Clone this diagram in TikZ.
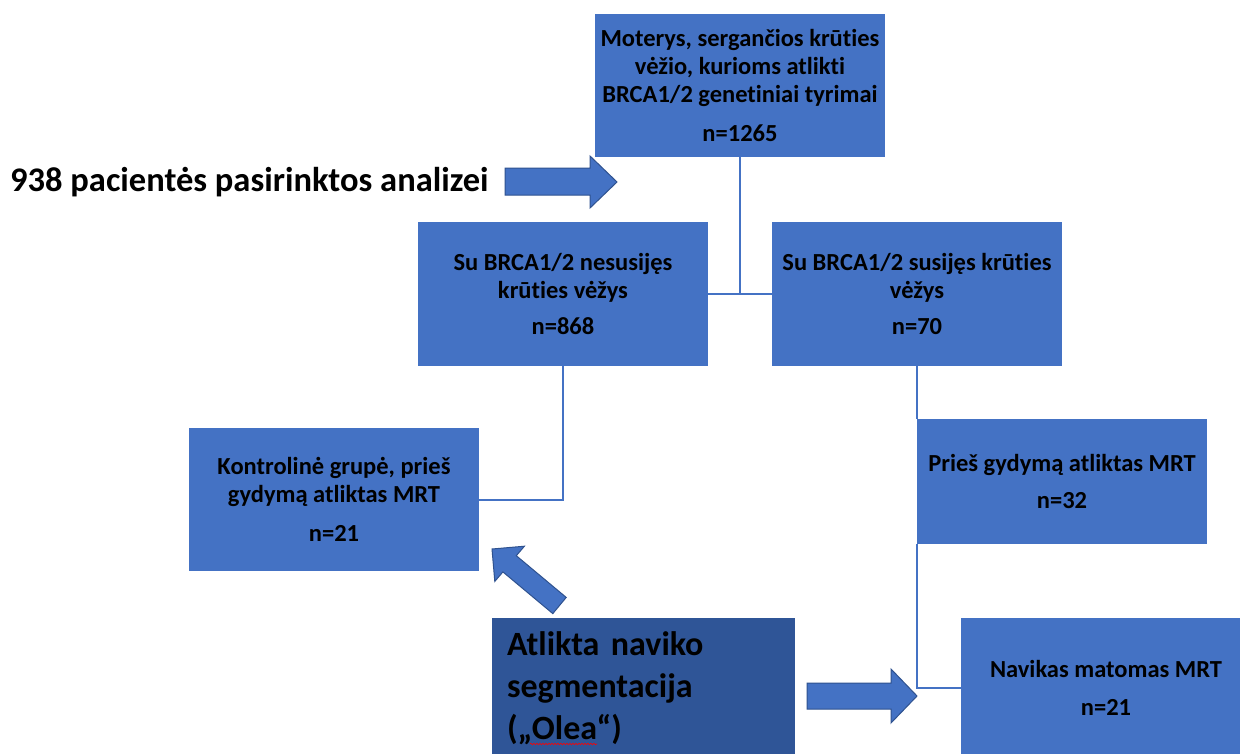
\documentclass[tikz,border=0pt]{standalone}
\usepackage{fontspec}
\setmainfont{Carlito}[Ligatures=NoCommon]
\usetikzlibrary{decorations.pathmorphing}
\definecolor{boxblue}{HTML}{4472C4}
\definecolor{darkblue}{HTML}{2F5597}
\definecolor{arrowedge}{HTML}{2F528F}
\tikzset{
  flowbox/.style={anchor=north west, fill=boxblue, draw=none, inner sep=0pt, outer sep=0pt,
    align=center, font=\fontsize{24.5}{28}\selectfont\bfseries, text=black},
  conn/.style={draw=boxblue, line width=2pt},
  blockarrow/.style={fill=boxblue, draw=arrowedge, line width=1pt, line join=miter},
}
\begin{document}
\begin{tikzpicture}[x=1pt,y=-1pt]
\clip (0,0) rectangle (1240,753);
\fill[white] (0,0) rectangle (1240,753);

\node[flowbox, minimum width=290pt, minimum height=143pt] (b1) at (595,14)
  {Moterys, sergančios krūties\\vėžio, kurioms atlikti\\BRCA1/2 genetiniai tyrimai\\[11pt]n=1265};
\node[flowbox, minimum width=290pt, minimum height=144pt] (b2) at (418,222)
  {Su BRCA1/2 nesusijęs\\krūties vėžys\\[8pt]n=868};
\node[flowbox, minimum width=290pt, minimum height=144pt] (b3) at (772,222)
  {Su BRCA1/2 susijęs krūties\\vėžys\\[8pt]n=70};
\node[flowbox, minimum width=290pt, minimum height=143pt] (b4) at (189,428)
  {Kontrolinė grupė, prieš\\gydymą atliktas MRT\\[11pt]n=21};
\node[flowbox, minimum width=290pt, minimum height=125pt] (b5) at (917,419)
  {Prieš gydymą atliktas MRT\\[9pt]n=32};
\node[flowbox, minimum width=290pt, minimum height=140pt] (b6) at (961,618)
  {Navikas matomas MRT\\[10pt]n=21};
\node[flowbox, fill=darkblue, align=left, text width=273pt, inner xsep=15pt,
  minimum height=140pt, font=\fontsize{34}{42}\selectfont\bfseries] (b7) at (492,618)
  {Atlikta naviko\\segmentacija\\(„Olea“)};
\draw[red, line width=0.6pt, decorate, decoration={snake, amplitude=0.8pt, segment length=3pt}]
  (530,744) -- (597,744);

\node[anchor=west, inner sep=0pt, font=\fontsize{34.5}{40}\selectfont\bfseries] (head) at (10,182)
  {938 pacientės pasirinktos analizei};

% connectors
\draw[conn] (b1.south) -- (b1.south |- b2.east);
\draw[conn] (b2.east) -- (b3.west);
\draw[conn] (b2.south) |- (b4.east);
\draw[conn] (b3.south) -- (b5.north west);
\draw[conn] (b5.south west) |- (b6.west);

% block arrows
\draw[blockarrow] (505,168) -- (590,168) -- (590,156) -- (617,182) -- (590,208) -- (590,195) -- (505,195) -- cycle;
\draw[blockarrow] (807,683) -- (891,683) -- (891,669) -- (917,696) -- (891,723) -- (891,709) -- (807,709) -- cycle;
\draw[blockarrow] (492,549) -- (524.4,546.2) -- (516.3,555.7) -- (566.2,597.4) -- (552.8,613.6) -- (502.9,571.9) -- (494.8,581.4) -- cycle;
\end{tikzpicture}
\end{document}
